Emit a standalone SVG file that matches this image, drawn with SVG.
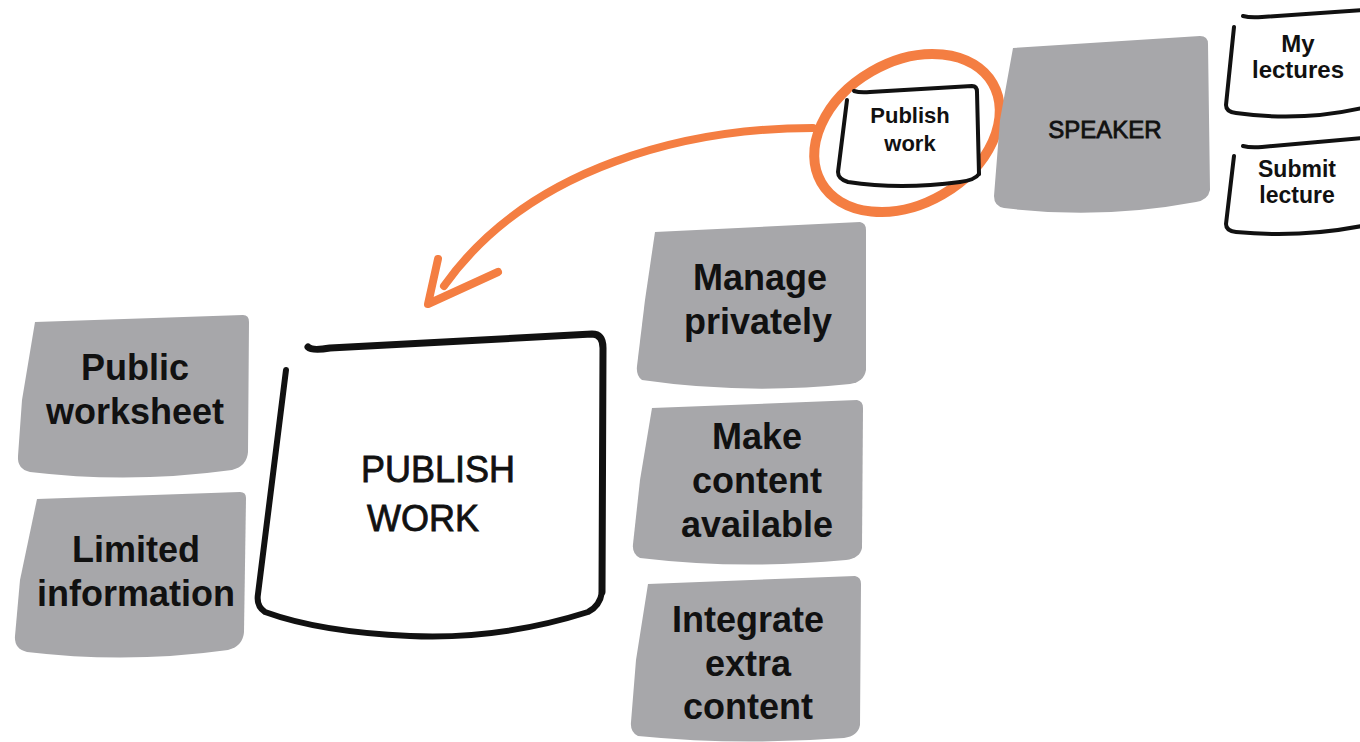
<svg xmlns="http://www.w3.org/2000/svg" width="1360" height="742" viewBox="0 0 1360 742">
  <style>
    .note { fill: #a7a7aa; }
    .card { fill: #ffffff; stroke: #111111; stroke-width: 4; stroke-linecap: round; stroke-linejoin: round; }
    .ink { fill: none; stroke: #111111; stroke-linecap: round; stroke-linejoin: round; }
    .lbl { font-family: "Liberation Sans", Arial, sans-serif; font-weight: bold; fill: #111111; text-anchor: middle; }
    .big { font-size: 36px; }
    .title { font-family: "Liberation Sans", Arial, sans-serif; fill: #111111; text-anchor: middle; stroke: #111111; stroke-width: 0.8; }
    .orange { fill: none; stroke: #f47e42; stroke-linecap: round; stroke-linejoin: round; }
  </style>

  <!-- connectors: highlight ring and curved arrow -->
  <g id="connectors">
    <ellipse class="orange" cx="907" cy="133" rx="99" ry="71" transform="rotate(-30 907 133)" stroke-width="10"/>
    <path class="orange" stroke-width="8" d="M813,128 C690,128 530,165 444,286"/>
    <path class="orange" stroke-width="8" d="M438,259 L428,304 L498,272"/>
  </g>

  <!-- left side notes -->
  <g id="public-worksheet">
    <path class="note" d="M35,322 L243,315 Q249,315 249,322 L248,452 Q247,466 232,470 Q130,484 30,472 Q17,469 18,456 L22,400 Z"/>
    <text class="lbl big" x="135" y="380">Public</text>
    <text class="lbl big" x="135" y="424">worksheet</text>
  </g>
  <g id="limited-information">
    <path class="note" d="M37,499 L240,492 Q246,492 246,498 L244,632 Q243,646 228,650 Q128,664 27,652 Q14,649 15,636 L20,580 Z"/>
    <text class="lbl big" x="136" y="562">Limited</text>
    <text class="lbl big" x="136" y="606">information</text>
  </g>

  <!-- central card -->
  <g id="publish-work-main">
    <path d="M308,348 L598,334 Q604,336 603,350 L602,590 Q600,606 588,612 Q500,640 410,636 Q320,632 265,612 Q256,606 258,594 L286,372 Z" fill="#ffffff"/>
    <path class="ink" stroke-width="7" d="M308,347 Q312,351 330,348 L592,334 Q603,334 603,348 L602,592"/>
    <path class="ink" stroke-width="6" d="M602,592 Q600,606 588,612 Q500,640 410,636 Q320,632 265,612 Q256,606 258,594 L286,370"/>
    <text class="title" font-size="36" x="438" y="482">PUBLISH</text>
    <text class="title" font-size="36" x="423" y="531">WORK</text>
  </g>

  <!-- right side notes -->
  <g id="manage-privately">
    <path class="note" d="M655,232 L860,222 Q866,223 866,230 L866,370 Q864,382 850,384 Q745,395 642,380 Q636,376 637,366 L645,300 Z"/>
    <text class="lbl big" x="760" y="290">Manage</text>
    <text class="lbl big" x="758" y="334">privately</text>
  </g>
  <g id="make-content-available">
    <path class="note" d="M652,408 L857,400 Q863,401 863,408 L862,548 Q860,558 846,560 Q740,570 640,558 Q632,554 633,544 L640,480 Z"/>
    <text class="lbl big" x="757" y="449">Make</text>
    <text class="lbl big" x="757" y="493">content</text>
    <text class="lbl big" x="757" y="537">available</text>
  </g>
  <g id="integrate-extra-content">
    <path class="note" d="M648,584 L855,576 Q861,577 861,584 L860,725 Q858,736 844,738 Q738,746 638,736 Q630,732 631,722 L636,660 Z"/>
    <text class="lbl big" x="748" y="632">Integrate</text>
    <text class="lbl big" x="748" y="676">extra</text>
    <text class="lbl big" x="748" y="719">content</text>
  </g>

  <!-- top right cluster -->
  <g id="publish-work-small">
    <path d="M852,91 L975,86 L980,178 Q900,192 838,180 L846,100 Z" fill="#ffffff"/>
    <path class="ink" stroke-width="4" d="M854,91 Q860,93 870,92 L972,86 Q977,86 977,92 L979,174"/>
    <path class="ink" stroke-width="4" d="M979,174 Q975,180 960,182 Q900,190 848,182 Q838,179 838,172 L847,100"/>
    <text class="lbl" font-size="22" x="910" y="123">Publish</text>
    <text class="lbl" font-size="22" x="910" y="151">work</text>
  </g>
  <g id="speaker">
    <path class="note" d="M1013,48 L1200,36 Q1208,36 1208,44 L1210,190 Q1208,200 1196,202 Q1100,220 1004,208 Q994,206 994,196 L1000,120 Z"/>
    <text class="title" font-size="24" stroke-width="0.5" x="1105" y="138">SPEAKER</text>
  </g>
  <g id="my-lectures">
    <path d="M1243,16 L1362,10 L1362,112 Q1300,120 1226,111 L1234,26 Z" fill="#ffffff"/>
    <path class="ink" stroke-width="4" d="M1243,16 Q1250,18 1262,17 L1362,10"/>
    <path class="ink" stroke-width="4" d="M1234,27 L1226,105 Q1226,112 1236,113 Q1300,122 1362,108"/>
    <text class="lbl" font-size="24" x="1298" y="52">My</text>
    <text class="lbl" font-size="24" x="1298" y="78">lectures</text>
  </g>
  <g id="submit-lecture">
    <path d="M1243,146 L1362,138 L1362,228 Q1300,238 1226,232 L1234,156 Z" fill="#ffffff"/>
    <path class="ink" stroke-width="4" d="M1243,146 Q1250,148 1262,147 L1362,138"/>
    <path class="ink" stroke-width="4" d="M1234,156 L1226,224 Q1226,231 1236,232 Q1300,238 1362,226"/>
    <text class="lbl" font-size="23" x="1297" y="177">Submit</text>
    <text class="lbl" font-size="23" x="1297" y="203">lecture</text>
  </g>
</svg>
